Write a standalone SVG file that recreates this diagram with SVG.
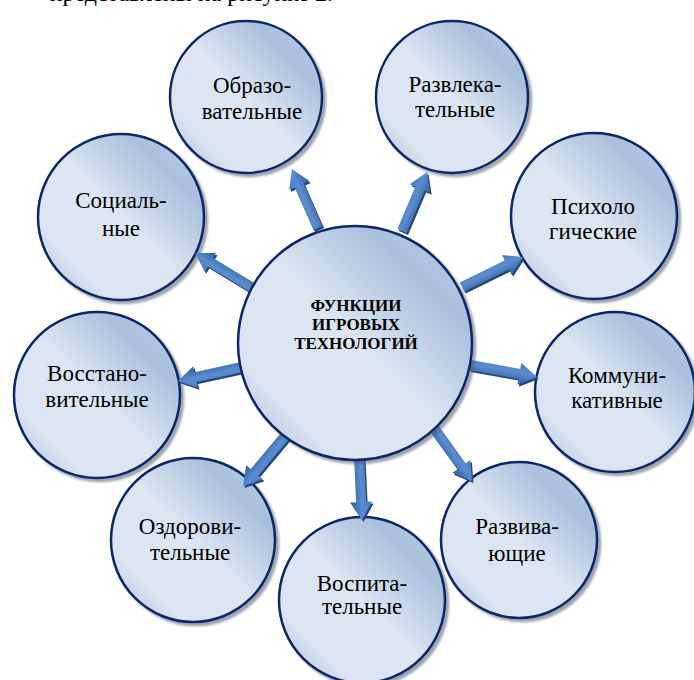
<svg xmlns="http://www.w3.org/2000/svg" width="694" height="680" viewBox="0 0 694 680">
<defs>
<linearGradient id="gc" x1="1" y1="0" x2="0" y2="1">
<stop offset="0" stop-color="#c2d3ea"/>
<stop offset="0.22" stop-color="#a8bfdd"/>
<stop offset="0.5" stop-color="#dce6f2"/>
<stop offset="0.78" stop-color="#dbe5f2"/>
<stop offset="0.93" stop-color="#b1c5e0"/>
<stop offset="1" stop-color="#c4d4ea"/>
</linearGradient>
<linearGradient id="ga" x1="0" y1="0" x2="0" y2="1">
<stop offset="0" stop-color="#4a7cbd"/>
<stop offset="0.45" stop-color="#5a8dcf"/>
<stop offset="1" stop-color="#2f5d9b"/>
</linearGradient>
<filter id="sh" x="-20%" y="-20%" width="140%" height="140%">
<feDropShadow dx="3" dy="3" stdDeviation="1.2" flood-color="#4d5a6e" flood-opacity="0.55"/>
</filter>
<style>
.n{fill:url(#gc);stroke:#0d2666;stroke-width:2.5;filter:url(#sh)}
text{font-family:"Liberation Serif","Tinos","Times New Roman","DejaVu Serif",serif}
.t{font-size:23px;fill:#000;text-anchor:middle}
.tc{font-size:17px;font-weight:bold;fill:#000;text-anchor:middle}
.a{fill:url(#ga)}
.ad{fill:#24467c}
</style>
</defs>
<rect width="694" height="680" fill="#fff"/>
<text x="333" y="1" font-size="24" text-anchor="end">представлены на рисунке 2.</text>

<g id="n-obraz"><circle class="n" cx="246" cy="97" r="76"/><text class="t" x="252" y="93">Образо-</text><text class="t" x="252" y="119">вательные</text></g>
<g id="n-razvlek"><circle class="n" cx="452" cy="97" r="76"/><text class="t" x="455" y="92">Развлека-</text><text class="t" x="455" y="117">тельные</text></g>
<g id="n-soc"><circle class="n" cx="121" cy="217" r="83"/><text class="t" x="121" y="208">Социаль-</text><text class="t" x="121" y="236">ные</text></g>
<g id="n-psih"><circle class="n" cx="594" cy="216" r="83"/><text class="t" x="593" y="214">Психоло</text><text class="t" x="593" y="239">гические</text></g>
<g id="n-vosst"><circle class="n" cx="97" cy="395" r="83"/><text class="t" x="97" y="381">Восстано-</text><text class="t" x="97" y="407">вительные</text></g>
<g id="n-komm"><circle class="n" cx="615" cy="392" r="80"/><text class="t" x="617" y="383">Коммуни-</text><text class="t" x="617" y="408">кативные</text></g>
<g id="n-ozd"><circle class="n" cx="193" cy="540" r="82"/><text class="t" x="190" y="534">Оздорови-</text><text class="t" x="190" y="560">тельные</text></g>
<g id="n-vosp"><circle class="n" cx="362" cy="600" r="83"/><text class="t" x="362" y="591">Воспита-</text><text class="t" x="362" y="614">тельные</text></g>
<g id="n-razviv"><circle class="n" cx="519" cy="540" r="78"/><text class="t" x="517" y="534">Развива-</text><text class="t" x="517" y="561">ющие</text></g>

<g id="connectors">
<g transform="translate(319.5,230) rotate(-113.8)"><path class="ad" d="M0,-5H46.5V-11L64.5,0L46.5,11V5H0Z"/></g>
<g transform="translate(318,228) rotate(-113.8)"><path class="a" d="M0,-5H46.5V-11L64.5,0L46.5,11V5H0Z"/></g>
<g transform="translate(403.5,233) rotate(-67)"><path class="ad" d="M0,-5H46.1V-11L64.1,0L46.1,11V5H0Z"/></g>
<g transform="translate(402,231) rotate(-67)"><path class="a" d="M0,-5H46.1V-11L64.1,0L46.1,11V5H0Z"/></g>
<g transform="translate(254.5,290) rotate(-148.9)"><path class="ad" d="M0,-5H49.7V-11L67.7,0L49.7,11V5H0Z"/></g>
<g transform="translate(253,288) rotate(-148.9)"><path class="a" d="M0,-5H49.7V-11L67.7,0L49.7,11V5H0Z"/></g>
<g transform="translate(463.5,289) rotate(-26.2)"><path class="ad" d="M0,-5H50V-11L68,0L50,11V5H0Z"/></g>
<g transform="translate(462,287) rotate(-26.2)"><path class="a" d="M0,-5H50V-11L68,0L50,11V5H0Z"/></g>
<g transform="translate(243.5,369) rotate(167.7)"><path class="ad" d="M0,-5H47.5V-11L65.5,0L47.5,11V5H0Z"/></g>
<g transform="translate(242,367) rotate(167.7)"><path class="a" d="M0,-5H47.5V-11L65.5,0L47.5,11V5H0Z"/></g>
<g transform="translate(471.5,367) rotate(10.2)"><path class="ad" d="M0,-5H50.1V-11L68.1,0L50.1,11V5H0Z"/></g>
<g transform="translate(470,365) rotate(10.2)"><path class="a" d="M0,-5H50.1V-11L68.1,0L50.1,11V5H0Z"/></g>
<g transform="translate(291.5,432) rotate(130)"><path class="ad" d="M0,-5H55.1V-11L73.1,0L55.1,11V5H0Z"/></g>
<g transform="translate(290,430) rotate(130)"><path class="a" d="M0,-5H55.1V-11L73.1,0L55.1,11V5H0Z"/></g>
<g transform="translate(360.5,459) rotate(87.3)"><path class="ad" d="M0,-5H45.1V-11L63.1,0L45.1,11V5H0Z"/></g>
<g transform="translate(359,457) rotate(87.3)"><path class="a" d="M0,-5H45.1V-11L63.1,0L45.1,11V5H0Z"/></g>
<g transform="translate(434.5,429) rotate(54.2)"><path class="ad" d="M0,-5H48.6V-11L66.6,0L48.6,11V5H0Z"/></g>
<g transform="translate(433,427) rotate(54.2)"><path class="a" d="M0,-5H48.6V-11L66.6,0L48.6,11V5H0Z"/></g>
</g>

<g id="n-center"><circle class="n" cx="355" cy="343" r="117"/>
<text class="tc" x="356" y="311">ФУНКЦИИ</text>
<text class="tc" x="356" y="330">ИГРОВЫХ</text>
<text class="tc" x="356" y="349">ТЕХНОЛОГИЙ</text></g>
</svg>
